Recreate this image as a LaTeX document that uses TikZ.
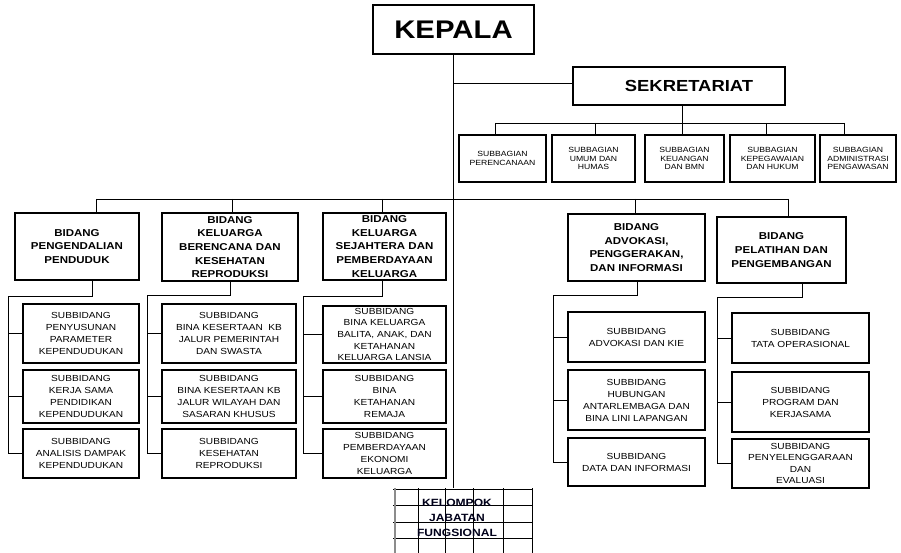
\documentclass[tikz,border=0pt]{standalone}
\usepackage{fontspec}
\setmainfont{Liberation Sans}
\newfontfamily\af[FakeStretch=1.15]{Liberation Sans}
\tikzset{
  box/.style={draw=black, line width=1.1pt, fill=white, inner sep=0pt, align=center},
  conn/.style={draw=black, line width=0.9pt},
  subtxt/.style={font=\af\fontsize{8.8}{12}\selectfont},
  bidtxt/.style={font=\af\bfseries\fontsize{10}{13.7}\selectfont},
  sbgtxt/.style={font=\af\fontsize{7.5}{8.6}\selectfont},
  gridline/.style={draw=black, line width=0.8pt},
}
\begin{document}
\begin{tikzpicture}[x=1pt,y=-1pt]
\useasboundingbox (0,0) rectangle (901,553);
% top
\node[box, minimum width=161pt, minimum height=49pt, font=\af\bfseries\fontsize{25.5}{28}\selectfont] (kepala) at (453.5,29.5) {KEPALA};
\node[box, minimum width=212pt, minimum height=38pt, font=\af\bfseries\fontsize{16}{18}\selectfont] (sek) at (679,86) {\hspace*{20pt}SEKRETARIAT};
% subbagian
\node[box, sbgtxt, minimum width=87pt, minimum height=47pt] (sb1) at (502.5,158.5) {SUBBAGIAN\\PERENCANAAN};
\node[box, sbgtxt, minimum width=83pt, minimum height=47pt] (sb2) at (593.5,158.5) {SUBBAGIAN\\UMUM DAN\\HUMAS};
\node[box, sbgtxt, minimum width=79pt, minimum height=47pt] (sb3) at (684.5,158.5) {SUBBAGIAN\\KEUANGAN\\DAN BMN};
\node[box, sbgtxt, minimum width=85pt, minimum height=47pt] (sb4) at (772.5,158.5) {SUBBAGIAN\\KEPEGAWAIAN\\DAN HUKUM};
\node[box, sbgtxt, minimum width=76pt, minimum height=47pt] (sb5) at (858,158.5) {SUBBAGIAN\\ADMINISTRASI\\PENGAWASAN};
% bidang
\node[box, bidtxt, minimum width=124pt, minimum height=67pt] (b1) at (77,246.5) {BIDANG\\PENGENDALIAN\\PENDUDUK};
\node[box, bidtxt, minimum width=136pt, minimum height=68pt] (b2) at (230,247) {BIDANG\\KELUARGA\\BERENCANA DAN\\KESEHATAN\\REPRODUKSI};
\node[box, bidtxt, minimum width=123pt, minimum height=67pt] (b3) at (384.5,246.5) {BIDANG\\KELUARGA\\SEJAHTERA DAN\\PEMBERDAYAAN\\KELUARGA};
\node[box, bidtxt, minimum width=137pt, minimum height=67pt] (b4) at (636.5,247.5) {BIDANG\\ADVOKASI,\\PENGGERAKAN,\\DAN INFORMASI};
\node[box, bidtxt, minimum width=129pt, minimum height=66pt] (b5) at (781.5,250) {BIDANG\\PELATIHAN DAN\\PENGEMBANGAN};
% subbidang col1
\node[box, subtxt, minimum width=116pt, minimum height=59pt] (s11) at (81,333.5) {SUBBIDANG\\PENYUSUNAN\\PARAMETER\\KEPENDUDUKAN};
\node[box, subtxt, minimum width=116pt, minimum height=53pt] (s12) at (81,396.5) {SUBBIDANG\\KERJA SAMA\\PENDIDIKAN\\KEPENDUDUKAN};
\node[box, subtxt, minimum width=116pt, minimum height=49pt] (s13) at (81,453.5) {SUBBIDANG\\ANALISIS DAMPAK\\KEPENDUDUKAN};
% col2
\node[box, subtxt, minimum width=134pt, minimum height=59pt] (s21) at (229,333.5) {SUBBIDANG\\BINA KESERTAAN~~KB\\JALUR PEMERINTAH\\DAN SWASTA};
\node[box, subtxt, minimum width=134pt, minimum height=53pt] (s22) at (229,396.5) {SUBBIDANG\\BINA KESERTAAN KB\\JALUR WILAYAH DAN\\SASARAN KHUSUS};
\node[box, subtxt, minimum width=134pt, minimum height=49pt] (s23) at (229,453.5) {SUBBIDANG\\KESEHATAN\\REPRODUKSI};
% col3
\node[box, subtxt, font=\af\fontsize{8.8}{11.7}\selectfont, minimum width=123pt, minimum height=57pt] (s31) at (384.5,334.5) {SUBBIDANG\\BINA KELUARGA\\BALITA, ANAK, DAN\\KETAHANAN\\KELUARGA LANSIA};
\node[box, subtxt, minimum width=123pt, minimum height=53pt] (s32) at (384.5,396.5) {SUBBIDANG\\BINA\\KETAHANAN\\REMAJA};
\node[box, subtxt, minimum width=123pt, minimum height=49pt] (s33) at (384.5,453.5) {SUBBIDANG\\PEMBERDAYAAN\\EKONOMI\\KELUARGA};
% col4
\node[box, subtxt, minimum width=137pt, minimum height=50pt] (s41) at (636.5,337) {SUBBIDANG\\ADVOKASI DAN KIE};
\node[box, subtxt, minimum width=137pt, minimum height=60pt] (s42) at (636.5,400) {SUBBIDANG\\HUBUNGAN\\ANTARLEMBAGA DAN\\BINA LINI LAPANGAN};
\node[box, subtxt, minimum width=137pt, minimum height=48pt] (s43) at (636.5,462) {SUBBIDANG\\DATA DAN INFORMASI};
% col5
\node[box, subtxt, minimum width=137pt, minimum height=50pt] (s51) at (800.5,338) {SUBBIDANG\\TATA OPERASIONAL};
\node[box, subtxt, minimum width=137pt, minimum height=60pt] (s52) at (800.5,402) {SUBBIDANG\\PROGRAM DAN\\KERJASAMA};
\node[box, subtxt, font=\af\fontsize{8.8}{11.5}\selectfont, minimum width=137pt, minimum height=49pt] (s53) at (800.5,463.5) {SUBBIDANG\\PENYELENGGARAAN\\DAN\\EVALUASI};
% kelompok jabatan fungsional grid
\node[minimum width=140pt, minimum height=65pt, inner sep=0pt] (kelbox) at (463,520.5) {};
\foreach \yy in {489,505,522,538} \draw[gridline] (393,\yy) -- (533,\yy);
\foreach \xx in {418,445,473,503,532} \draw[gridline] (\xx,488) -- (\xx,553);
\draw[draw=black!45, line width=2pt] (395,488) -- (395,553);
\node[font=\af\bfseries\fontsize{10.5}{15}\selectfont, align=center, inner sep=0pt, text=black!90!blue] (kel) at (457,517.5) {KELOMPOK\\JABATAN\\FUNGSIONAL};
% coordinates
\coordinate (jsek) at (454,83);
\coordinate (sbus) at (682,123);
\coordinate (sbl) at (495,123);
\coordinate (sbr) at (844,123);
\coordinate (bbl) at (96,199);
\coordinate (bbr) at (788,199);
% main line
\draw[conn] (kepala.south) -- (kepala.south |- kelbox.north);
\draw[conn] (jsek) -- (jsek -| sek.west);
% sekretariat bus
\draw[conn] (sek.south -| sbus) -- (sbus);
\draw[conn] (sbl) -- (sbr);
\draw[conn] (sbl) -- (sbl |- sb1.north);
\draw[conn] (595,123) -- (595,135);
\draw[conn] (sbus) -- (sbus |- sb3.north);
\draw[conn] (766,123) -- (766,135);
\draw[conn] (sbr) -- (sbr |- sb5.north);
% bidang bus
\draw[conn] (bbl) -- (bbr);
\draw[conn] (bbl) -- (bbl |- b1.north);
\draw[conn] (232,199) -- (232,213);
\draw[conn] (382,199) -- (382,213);
\draw[conn] (635,199) -- (635,214);
\draw[conn] (bbr) -- (bbr |- b5.north);
% col1
\coordinate (c1t) at (92,296); \coordinate (c1l) at (8,296);
\draw[conn] (c1t |- b1.south) -- (c1t) -- (c1l) -- (c1l |- s13.west) -- (s13.west);
\draw[conn] (c1l |- s11.west) -- (s11.west);
\draw[conn] (c1l |- s12.west) -- (s12.west);
% col2
\coordinate (c2t) at (230,295); \coordinate (c2l) at (147,295);
\draw[conn] (c2t |- b2.south) -- (c2t) -- (c2l) -- (c2l |- s23.west) -- (s23.west);
\draw[conn] (c2l |- s21.west) -- (s21.west);
\draw[conn] (c2l |- s22.west) -- (s22.west);
% col3
\coordinate (c3t) at (382,296); \coordinate (c3l) at (303,296);
\draw[conn] (c3t |- b3.south) -- (c3t) -- (c3l) -- (c3l |- s33.west) -- (s33.west);
\draw[conn] (c3l |- s31.west) -- (s31.west);
\draw[conn] (c3l |- s32.west) -- (s32.west);
% col4
\coordinate (c4t) at (637,295); \coordinate (c4l) at (553,295);
\draw[conn] (c4t |- b4.south) -- (c4t) -- (c4l) -- (c4l |- s43.west) -- (s43.west);
\draw[conn] (c4l |- s41.west) -- (s41.west);
\draw[conn] (c4l |- s42.west) -- (s42.west);
% col5
\coordinate (c5t) at (802,297); \coordinate (c5l) at (717,297);
\draw[conn] (c5t |- b5.south) -- (c5t) -- (c5l) -- (c5l |- s53.west) -- (s53.west);
\draw[conn] (c5l |- s51.west) -- (s51.west);
\draw[conn] (c5l |- s52.west) -- (s52.west);
\end{tikzpicture}
\end{document}
